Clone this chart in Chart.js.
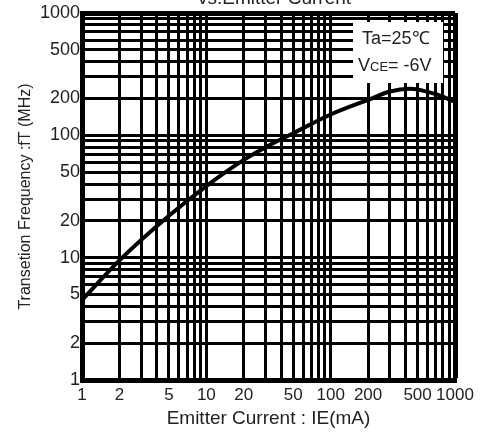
<!DOCTYPE html>
<html>
<head>
<meta charset="utf-8">
<script src="https://cdn.jsdelivr.net/npm/chart.js@4"></script>
<style>
  html, body { margin: 0; padding: 0; background: #fff; }
  #wrap { width: 494px; height: 434px; position: relative; }
</style>
</head>
<body>
<div id="wrap"><canvas id="chart-ft"></canvas></div>
<script>
// fT vs emitter current
var currentMA = [1, 2, 5, 10, 20, 30, 50, 100, 200, 300, 430, 700, 1000];
var fTMHz = [4.5, 9.5, 22, 38.5, 63, 80, 104, 148, 195, 228, 240, 217, 188];

var xLabels = [1, 2, 5, 10, 20, 50, 100, 200, 500, 1000];
var yLabels = [1, 2, 5, 10, 20, 50, 100, 200, 500, 1000];

// log grid: 1..9 in each decade
var gridSteps = [1, 2, 3, 4, 5, 6, 7, 8, 9];
var decades = [1, 10, 100];
var gridValues = [];
decades.forEach(function (d) {
    gridSteps.forEach(function (s) { gridValues.push(s * d); });
});
gridValues.push(1000);

function gridWidth(c) {
    return (c.tick && c.tick.value === 1000) ? 5 : 3;
}

var notePlugin = {
    id: 'note',
    beforeDatasetsDraw: function (chart) {
        var ctx = chart.ctx, a = chart.chartArea;
        ctx.save();
        ctx.fillStyle = '#fff';
        ctx.fillRect(a.right - 102, a.top + 9, 90, 61);
        ctx.fillStyle = '#222';
        ctx.textBaseline = 'alphabetic';
        ctx.textAlign = 'left';
        ctx.font = '18px "Liberation Sans", Arial, sans-serif';
        ctx.fillText('Ta=25\u2103', a.right - 93, a.top + 31);
        var x = a.right - 97;
        ctx.fillText('V', x, a.top + 58);
        x += ctx.measureText('V').width;
        ctx.font = '13px "Liberation Sans", Arial, sans-serif';
        ctx.fillText('CE', x, a.top + 58);
        x += ctx.measureText('CE').width;
        ctx.font = '18px "Liberation Sans", Arial, sans-serif';
        ctx.fillText('= -6V', x, a.top + 58);
        ctx.restore();
    },
    afterDraw: function (chart) {
        var ctx = chart.ctx, a = chart.chartArea;
        ctx.save();
        ctx.fillStyle = '#222';
        ctx.textAlign = 'center';
        ctx.textBaseline = 'alphabetic';
        ctx.font = '19px "Liberation Sans", Arial, sans-serif';
        ctx.fillText('vs.Emitter Current', (a.left + a.right) / 2 + 6, 4);
        ctx.restore();
    }
};

var chartEl = document.getElementById('chart-ft');
var chartFt = new Chart(chartEl, {
    type: 'line',
    plugins: [notePlugin],
    data: {
        datasets: [{
            data: currentMA.map(function (v, i) { return { x: v, y: fTMHz[i] }; }),
            borderColor: '#000',
            borderWidth: 4,
            pointRadius: 0,
            fill: false,
            cubicInterpolationMode: 'monotone'
        }]
    },
    options: {
        responsive: true,
        maintainAspectRatio: false,
        animation: false,
        layout: { padding: { top: 13, right: 39, left: 0, bottom: 0 } },
        plugins: {
            legend: { display: false },
            tooltip: { enabled: false }
        },
        scales: {
            x: {
                type: 'logarithmic',
                min: 1,
                max: 1000,
                afterBuildTicks: function (s) {
                    s.ticks = gridValues.map(function (v) { return { value: v }; });
                },
                afterFit: function (s) { s.height = 54; },
                grid: { color: '#000', lineWidth: gridWidth, drawTicks: false },
                border: { display: true, color: '#000', width: 5 },
                ticks: {
                    autoSkip: false,
                    maxRotation: 0,
                    padding: 5,
                    color: '#222',
                    font: { family: 'Liberation Sans, Arial, sans-serif', size: 17 },
                    callback: function (v) { return xLabels.indexOf(v) >= 0 ? String(v) : ''; }
                },
                title: {
                    display: true,
                    text: 'Emitter Current : IE(mA)',
                    color: '#222',
                    font: { family: 'Liberation Sans, Arial, sans-serif', size: 19 },
                    padding: { top: 0, bottom: 4 }
                }
            },
            y: {
                type: 'logarithmic',
                min: 1,
                max: 1000,
                afterBuildTicks: function (s) {
                    s.ticks = gridValues.map(function (v) { return { value: v }; });
                },
                afterFit: function (s) { s.width = 82; },
                grid: { color: '#000', lineWidth: gridWidth, drawTicks: false },
                border: { display: true, color: '#000', width: 5 },
                ticks: {
                    autoSkip: false,
                    padding: 2,
                    color: '#222',
                    font: { family: 'Liberation Sans, Arial, sans-serif', size: 18 },
                    callback: function (v) { return yLabels.indexOf(v) >= 0 ? String(v) : ''; }
                },
                title: {
                    display: true,
                    text: 'Transetion Frequency :fT (MHz)',
                    color: '#222',
                    font: { family: 'Liberation Sans, Arial, sans-serif', size: 16 },
                    padding: { top: 16, bottom: 0 }
                }
            }
        }
    }
});
</script>
</body>
</html>
